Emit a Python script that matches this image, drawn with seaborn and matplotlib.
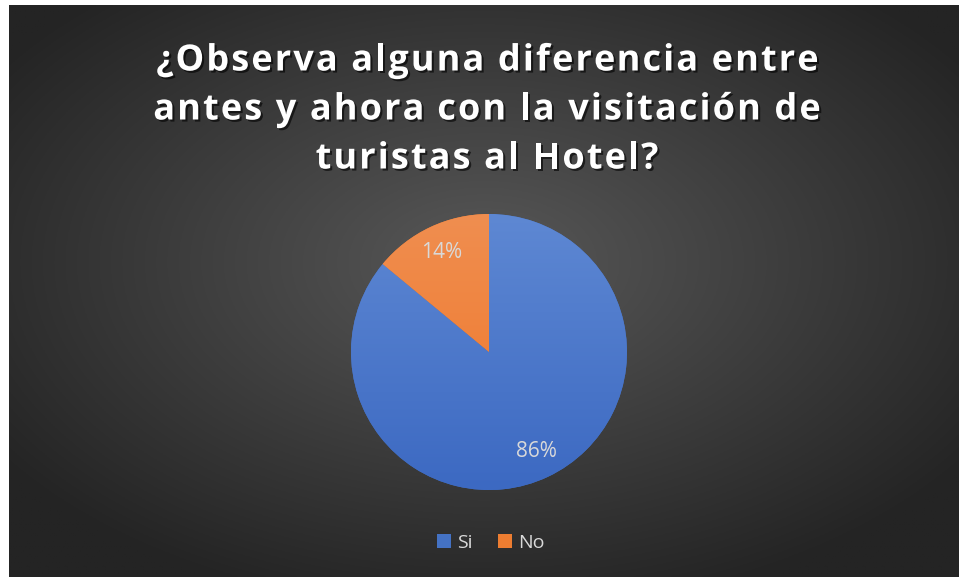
import numpy as np
import matplotlib
matplotlib.use("Agg")
import matplotlib.pyplot as plt
import matplotlib.patheffects as pe
from matplotlib.patches import Patch
from matplotlib.font_manager import FontProperties
from matplotlib.textpath import TextToPath
import seaborn as sns

labels = ["Si", "No"]
values = [86, 14]
title_lines = ["¿Observa alguna diferencia entre",
               "antes y ahora con la visitación de",
               "turistas al Hotel?"]

sns.set_theme(style="dark")
plt.rcParams['font.family'] = ['Open Sans', 'DejaVu Sans']

colors = ["#4472C4", "#ED7D31"]
tops = ["#5E88D3", "#F08E50"]
bottoms = ["#3C69C2", "#EE7526"]

W, H = 959, 577
fig = plt.figure(figsize=(W / 100, H / 100), dpi=100, facecolor="white")

# background with radial gradient
bg = fig.add_axes([9 / W, 0, (W - 9) / W, (H - 5) / H])
bg.set_axis_off()
yy, xx = np.mgrid[0:1:300j, 0:1:500j]
d = np.sqrt(((xx - 0.5) / 0.62) ** 2 + ((yy - 0.55) / 0.62) ** 2)
d = np.clip(d, 0, 1)
lo = np.array([0x58, 0x58, 0x58]) / 255
hi = np.array([0x24, 0x24, 0x24]) / 255
img = lo[None, None, :] * (1 - d[..., None]) + hi[None, None, :] * d[..., None]
bg.imshow(img, extent=[0, 1, 0, 1], aspect="auto", origin="lower")

# pie
cx, cy, r = 489, 352, 138
ax = fig.add_axes([(cx - r) / W, (H - cy - r) / H, 2 * r / W, 2 * r / H])
ax.set_axis_off()
wedges, _, autotexts = ax.pie(values, colors=colors, startangle=90, counterclock=False,
                              autopct="%1.0f%%", pctdistance=0.8,
                              wedgeprops=dict(linewidth=0, edgecolor="none"),
                              textprops=dict(color="#D9D9D9", fontsize=15))
ax.set_xlim(-1, 1)
ax.set_ylim(-1, 1)
for w, t, b in zip(wedges, tops, bottoms):
    grad = np.linspace(0, 1, 256)[:, None]
    c1 = np.array(matplotlib.colors.to_rgb(t))
    c2 = np.array(matplotlib.colors.to_rgb(b))
    g = c1[None, None, :] * (1 - grad[..., None]) + c2[None, None, :] * grad[..., None]
    g = np.repeat(g, 2, axis=1)
    im = ax.imshow(g, extent=[-1, 1, -1, 1], aspect="auto", zorder=1.5)
    im.set_clip_path(w)
for t in autotexts:
    t.set_zorder(3)

# title with letter spacing, drawn char by char
fsize = 26
spacing = 2.1  # px between letters
prop = FontProperties(family="Open Sans", weight="bold", size=fsize)
ttp = TextToPath()
px = 100 / 72


def text_w(s):
    return ttp.get_text_width_height_descent(s, prop, ismath=False)[0] * px


shadow = [pe.SimplePatchShadow(offset=(1.5, -1.5), shadow_rgbFace="black", alpha=0.6), pe.Normal()]
ref_w = text_w("H")
for i, line in enumerate(title_lines):
    total = text_w(line) + spacing * (len(line) - 1)
    x0 = 487 - total / 2
    y = 1 - (57 + 49 * i) / H
    for j, ch in enumerate(line):
        if ch == " ":
            continue
        off = text_w(line[:j] + "H") - ref_w if j > 0 else 0
        fig.text((x0 + off + spacing * j) / W, y, ch, ha="left", va="center_baseline",
                 color="white", fontproperties=prop, path_effects=shadow)

handles = [Patch(facecolor=c, edgecolor="none", label=l) for c, l in zip(colors, labels)]
fig.legend(handles=handles, loc="center", bbox_to_anchor=(491 / W, 1 - 543 / H), ncol=2,
           frameon=False, fontsize=14, labelcolor="#D9D9D9", handlelength=0.7,
           handleheight=0.7, handletextpad=0.35, columnspacing=1.3)

fig.savefig("out.png", dpi=100, facecolor="white")
